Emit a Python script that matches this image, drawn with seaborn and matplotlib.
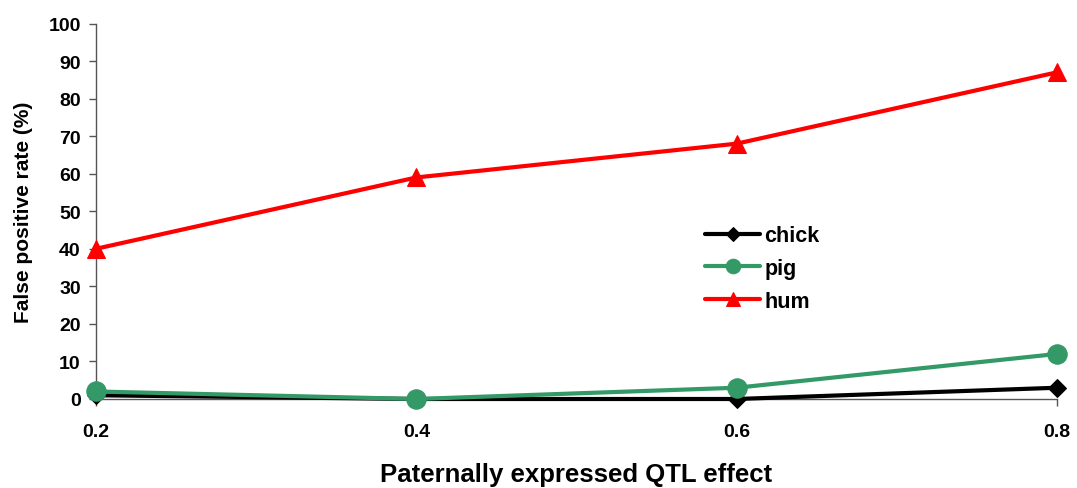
import matplotlib
matplotlib.use("Agg")
import matplotlib.pyplot as plt
import seaborn as sns
import pandas as pd

# QTL effect levels and false positive rates (%) per species
effect = [0.2, 0.4, 0.6, 0.8]
effect_labels = ["0.2", "0.4", "0.6", "0.8"]
chick = [1, 0, 0, 3]
pig = [2, 0, 3, 12]
hum = [40, 59, 68, 87]
y_ticks = list(range(0, 101, 10))

sns.set_style("white")
plt.rcParams["font.family"] = ["Liberation Sans", "DejaVu Sans"]
plt.rcParams["font.weight"] = "bold"
plt.rcParams["text.color"] = "black"
plt.rcParams["axes.labelcolor"] = "black"
plt.rcParams["xtick.color"] = "black"
plt.rcParams["ytick.color"] = "black"

fig = plt.figure(figsize=(10.77, 4.89), dpi=100)
ax = fig.add_axes([96 / 1077, 89 / 489, (1057 - 96) / 1077, (400 - 24.5) / 489])

series = [
    ("chick", chick, "#000000", "D", 9.5),
    ("pig", pig, "#339966", "o", 14),
    ("hum", hum, "#FF0000", "^", 13.5),
]
for name, vals, color, marker, ms in series:
    df = pd.DataFrame({"effect": effect, "rate": vals})
    sns.lineplot(data=df, x="effect", y="rate", ax=ax, color=color, marker=marker,
                 markersize=ms, markeredgecolor=color, linewidth=3, label=name,
                 clip_on=False, zorder=3)

ax.set_xlim(0.2, 0.8)
ax.set_ylim(0, 100)
ax.set_xticks(effect)
ax.set_xticklabels(effect_labels)
ax.set_yticks(y_ticks)

for s in ["top", "right"]:
    ax.spines[s].set_visible(False)
for s in ["left", "bottom"]:
    ax.spines[s].set_color("#555555")
    ax.spines[s].set_linewidth(1.0)

ax.tick_params(axis="y", direction="out", length=5, width=1, color="#555555",
               labelcolor="black", pad=6, labelsize=14, left=True)
ax.tick_params(axis="x", direction="out", length=5, width=1, color="#555555",
               labelcolor="black", pad=12, labelsize=14, bottom=True)
for lbl in ax.get_xticklabels() + ax.get_yticklabels():
    lbl.set_fontweight("bold")

ax.set_xlabel("Paternally expressed QTL effect", fontsize=18.5, fontweight="bold",
              color="black", labelpad=16)
ax.set_ylabel("False positive rate (%)", fontsize=15, fontweight="bold",
              color="black", labelpad=11)

leg = ax.legend(loc="upper left", bbox_to_anchor=(690 / 1077, 1 - 211 / 489),
                bbox_transform=fig.transFigure, frameon=False, fontsize=15.5,
                handlelength=2.55, handletextpad=0.2, labelspacing=0.55,
                borderpad=0.2, markerscale=0.75)
for t in leg.get_texts():
    t.set_fontweight("bold")
    t.set_color("black")

fig.savefig("out.png", dpi=100)
